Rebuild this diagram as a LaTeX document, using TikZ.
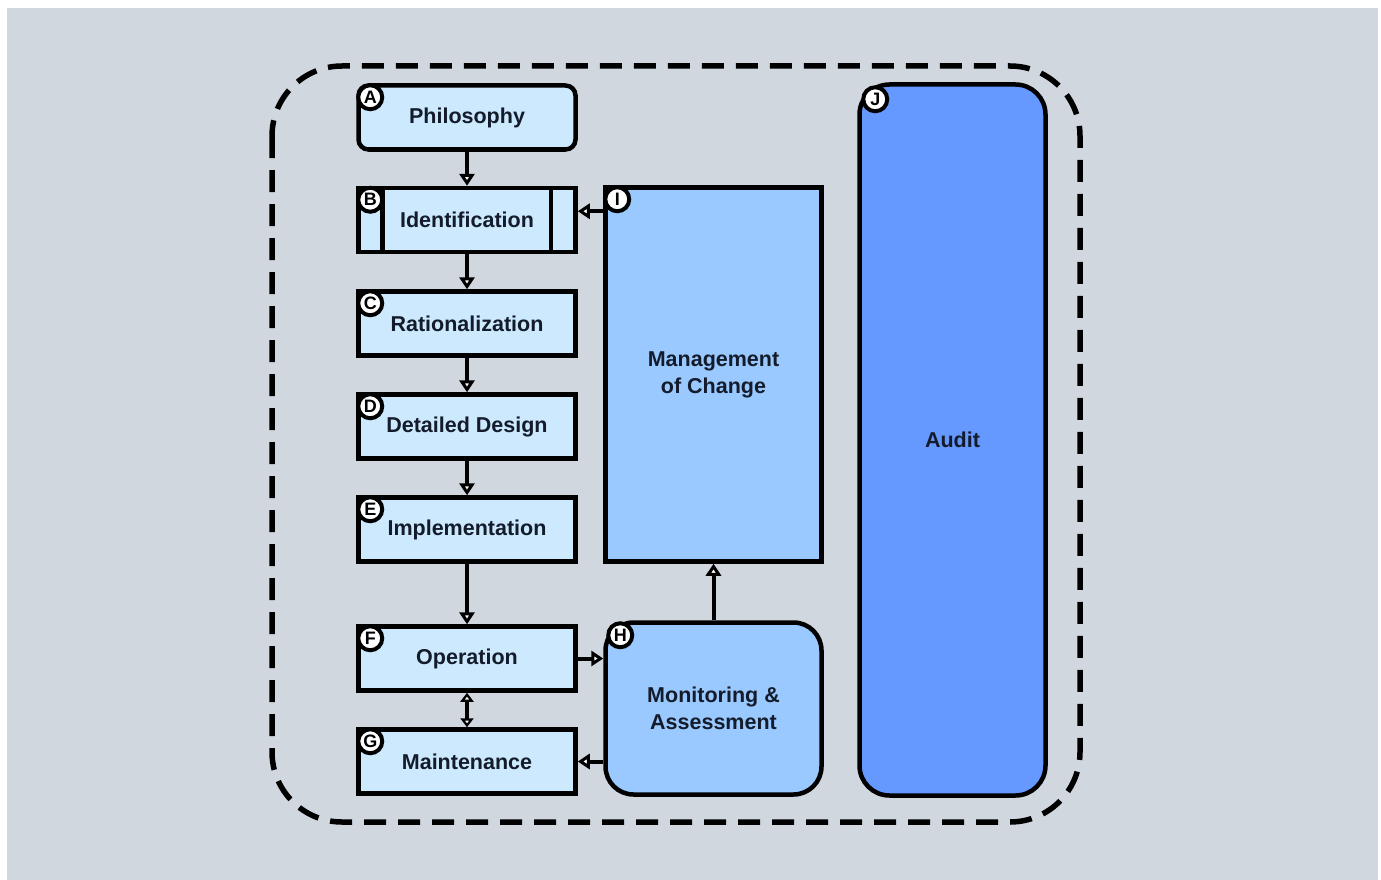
\documentclass[tikz,border=0pt]{standalone}
\usepackage{fontspec}
\setmainfont{Liberation Sans}
\usetikzlibrary{arrows.meta,calc}
\definecolor{bgc}{HTML}{D0D7DF}
\definecolor{stagefill}{HTML}{CCE9FD}
\definecolor{mocfill}{HTML}{99C9FF}
\definecolor{auditfill}{HTML}{6699FF}
\definecolor{txt}{HTML}{141C2C}
\begin{document}
\begin{tikzpicture}[x=1pt,y=-1pt,
  stage/.style={draw=black, line width=4.5pt, fill=stagefill, minimum width=217pt,
    minimum height=64pt, inner sep=0pt, text=txt,
    font=\bfseries\fontsize{21.5}{26}\selectfont},
  bigbox/.style={draw=black, line width=4.5pt, inner sep=0pt, text=txt, align=center,
    font=\bfseries\fontsize{21.5}{27}\selectfont},
  badge/.style={circle, draw=black, line width=4pt, fill=white, minimum size=24pt,
    inner sep=0pt, text=black, font=\bfseries\fontsize{18}{18}\selectfont},
  flow/.style={line width=4pt, -{Triangle[open, fill=white, length=12pt, width=15pt, line width=3pt]}},
  both/.style={line width=4pt, {Triangle[open, fill=white, length=9pt, width=13pt, line width=3pt]}-{Triangle[open, fill=white, length=9pt, width=13pt, line width=3pt]}},
  boundary/.style={draw=black, line width=5.5pt, dash pattern=on 22pt off 12pt, rounded corners=70pt}
]
\useasboundingbox (0,0) rectangle (1381,880);
\fill[white] (0,0) rectangle (1381,880);
\fill[bgc] (7,8) rectangle (1378,880);

% dashed outline around the whole programme
\draw[boundary] (272,66) rectangle (1080,822);

% lifecycle stages
\node[stage, rounded corners=10pt] (A) at (467,117.5) {Philosophy};
\node[stage] (B) at (467,220) {Identification};
\node[stage] (C) at (467,323.5) {Rationalization};
\node[stage] (D) at (467,426.5) {Detailed Design};
\node[stage] (E) at (467,529.5) {Implementation};
\node[stage] (F) at (467,658.5) {Operation};
\node[stage] (G) at (467,761.5) {Maintenance};

% side bars of the Identification box
\draw[line width=4.5pt] ($(B.north west)+(26,0)$) -- ($(B.south west)+(26,0)$);
\draw[line width=4.5pt] ($(B.north east)+(-27,0)$) -- ($(B.south east)+(-27,0)$);

% supporting processes
\node[bigbox, fill=mocfill, minimum width=216pt, minimum height=374pt] (I) at (713.5,374.5) {Management\\of Change};
\node[bigbox, fill=mocfill, rounded corners=28pt, minimum width=216pt, minimum height=172pt] (H) at (713.5,708.5) {Monitoring \&\\Assessment};
\node[bigbox, fill=auditfill, rounded corners=30pt, minimum width=186pt, minimum height=711pt] (J) at (952.5,440) {Audit};

% letter badges
\foreach \n/\l in {A/A,B/B,C/C,D/D,E/E,F/F,G/G,I/I}
  \node[badge] (b\n) at ($(\n.north west)+(14,14)$) {\l};
\node[badge] (bH) at ($(H.north west)+(17,15)$) {H};
\node[badge] (bJ) at ($(J.north west)+(18,17)$) {J};

% flow between stages
\draw[flow] (A.south) -- (B.north);
\draw[flow] (B.south) -- (C.north);
\draw[flow] (C.south) -- (D.north);
\draw[flow] (D.south) -- (E.north);
\draw[flow] (E.south) -- (F.north);
\draw[both] (F.south) -- (G.south |- G.north);

\coordinate (iout) at ($(I.north west)+(0,26)$);
\draw[flow] (iout) -- (iout -| B.east);
\draw[flow] (H.north) -- (I.south);
\draw[flow] (F.east) -- (F.east -| H.west);
\draw[flow] (G.east -| H.west) -- (G.east);
\end{tikzpicture}
\end{document}
